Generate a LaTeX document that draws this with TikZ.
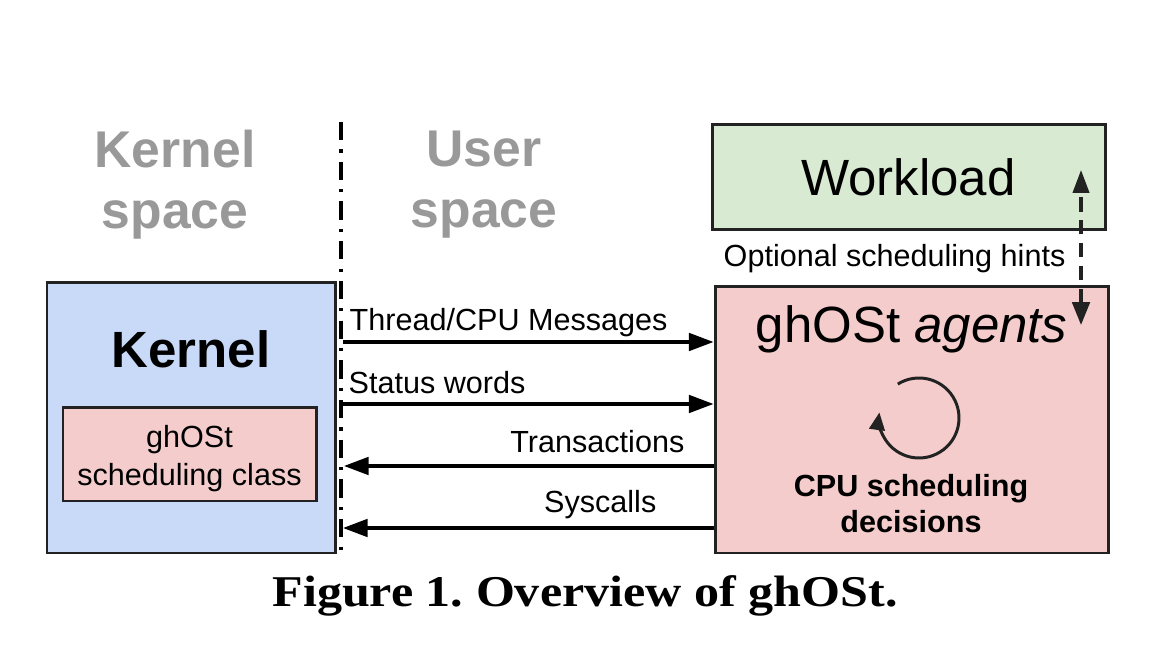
\documentclass[tikz,border=0pt]{standalone}
\usepackage{fontspec}
\setmainfont{Liberation Sans}
\newfontfamily\capfont[FakeStretch=1.14]{Liberation Serif}
\usetikzlibrary{arrows.meta}

\definecolor{kernelblue}{RGB}{201,218,248}
\definecolor{ghostpink}{RGB}{244,204,204}
\definecolor{workgreen}{RGB}{217,234,211}
\definecolor{spacegray}{RGB}{153,153,153}
\definecolor{edgegray}{RGB}{34,34,34}

\tikzset{
  box/.style={draw=edgegray, line width=0.85pt, inner sep=0pt},
  msg/.style={line width=0.9pt, -{Triangle[length=7pt,width=5pt]}},
  hint/.style={draw=edgegray, line width=0.9pt, dash pattern=on 4pt off 2.5pt,
    {Triangle[length=6.5pt,width=5pt]}-{Triangle[length=6.5pt,width=4.6pt]}},
  divider/.style={line width=0.9pt, dash pattern=on 5.2pt off 2.6pt on 0.9pt off 2.6pt},
  spacelbl/.style={text=spacegray, font=\fontsize{14.7}{17.4}\selectfont\bfseries, align=center, inner sep=0pt},
  biglbl/.style={font=\fontsize{14.5}{17}\selectfont, inner sep=0pt},
  lbl/.style={font=\fontsize{8.7}{10.8}\selectfont, inner sep=0pt},
}

\begin{document}
\frenchspacing
\begin{tikzpicture}[x=1cm,y=1cm]

\useasboundingbox (0,0) rectangle (11.5,-6.48);

% kernel / user split
\node[spacelbl] (kspace) at (1.75,-1.85) {Kernel\\space};
\node[spacelbl] (uspace) at (4.84,-1.85) {User\\space};

\coordinate (divtop) at (3.41,-1.22);
\coordinate (divbot) at (3.41,-5.50);
\draw[divider] (divtop) -- (divbot);

% kernel side
\node[box, fill=kernelblue, minimum width=2.88cm, minimum height=2.70cm] (kernel) at (1.91,-4.18) {};
\node[biglbl, font=\fontsize{14.5}{17}\selectfont\bfseries, anchor=base] (kernellbl) at (1.91,-3.68) {Kernel};
\node[box, fill=ghostpink, minimum width=2.53cm, minimum height=0.93cm] (sclass) at (1.895,-4.545) {};
\node[lbl, align=center] (sclasslbl) at ([yshift=-0.045cm]sclass.center) {ghOSt\\scheduling class};

% user side
\node[box, fill=workgreen, minimum width=3.93cm, minimum height=1.05cm] (workload) at (9.085,-1.775)
  {\fontsize{14.5}{17}\selectfont Workload};
\node[box, fill=ghostpink, minimum width=3.93cm, minimum height=2.66cm] (agents) at (9.115,-4.20) {};
\node[biglbl, anchor=base] (agentslbl) at (9.115,-3.43) {ghOSt \textit{agents}};
\node[lbl, font=\fontsize{8.7}{10.2}\selectfont\bfseries, align=center] (decisions) at (9.11,-5.04) {CPU scheduling\\decisions};

% scheduling loop
\coordinate (loop) at (9.19,-4.18);
\draw[draw=edgegray, line width=0.85pt, -{Triangle[length=5pt,width=4.4pt]}]
  (loop) ++(122:0.40) arc[start angle=122, end angle=-188, radius=0.40];

% hints
\coordinate (hintup) at (10.81,-1.70);
\coordinate (hintdown) at (10.81,-3.25);
\draw[hint] (hintdown) -- (hintup);
\node[lbl, anchor=base west] (hintlbl) at (7.23,-2.67) {Optional scheduling hints};

% messages between the two sides
\coordinate (m1) at (3.43,-3.42);
\coordinate (m2) at (3.41,-4.04);
\coordinate (m3) at (3.44,-4.66);
\coordinate (m4) at (3.43,-5.28);
\draw[msg] (m1) -- (m1 -| agents.west);
\draw[msg] (m2) -- (m2 -| agents.west);
\draw[msg] (m3 -| agents.west) -- (m3);
\draw[msg] (m4 -| agents.west) -- (m4);

\node[lbl, anchor=base west] (m1lbl) at (3.49,-3.31) {Thread/CPU Messages};
\node[lbl, anchor=base west] (m2lbl) at (3.48,-3.94) {Status words};
\node[lbl, anchor=base east] (m3lbl) at (6.85,-4.53) {Transactions};
\node[lbl, anchor=base east] (m4lbl) at (6.57,-5.13) {Syscalls};

% caption
\node[anchor=base, inner sep=0pt] (caption) at (5.85,-6.07)
  {\capfont\bfseries\fontsize{12.5}{15}\selectfont Figure 1. Overview of ghOSt.};

\end{tikzpicture}
\end{document}
